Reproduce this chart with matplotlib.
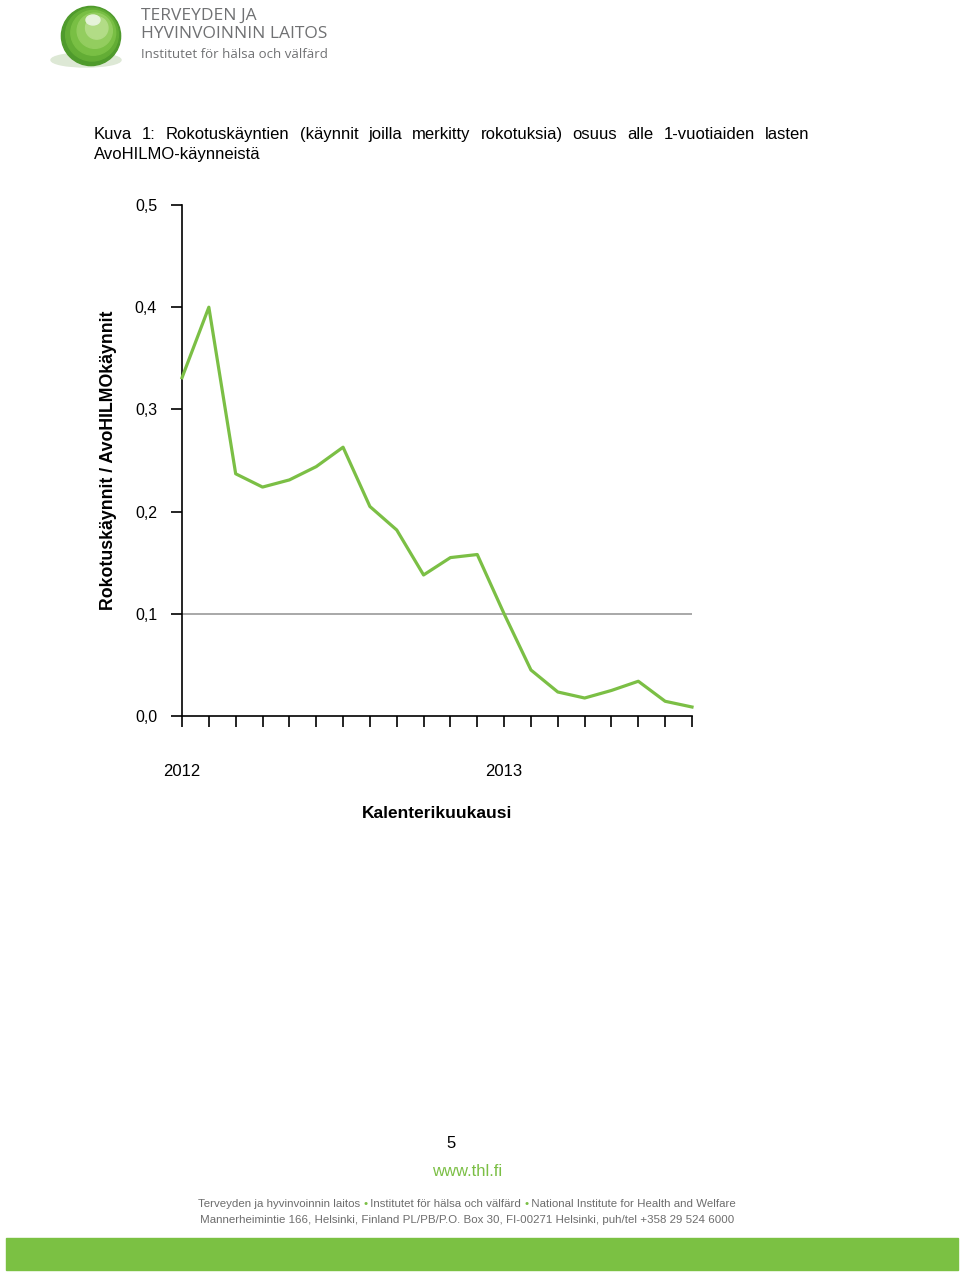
import numpy as np
import matplotlib.pyplot as plt
from matplotlib.patches import Circle, Ellipse, Rectangle

plt.rcParams['font.family'] = ['Liberation Sans', 'DejaVu Sans']

# monthly share of vaccination visits, Jan 2012 - Aug 2013
months = list(range(20))
share = [0.331, 0.400, 0.237, 0.224, 0.231, 0.244, 0.263, 0.205, 0.182, 0.138,
         0.155, 0.158, 0.100, 0.045, 0.0235, 0.0176, 0.025, 0.034, 0.0144, 0.0088]
year_pos = [0, 12]
year_labels = ['2012', '2013']
yticks = [0.0, 0.1, 0.2, 0.3, 0.4, 0.5]
ytick_labels = ['0,0', '0,1', '0,2', '0,3', '0,4', '0,5']

green = '#7bbf45'
W, H = 960, 1272
fig = plt.figure(figsize=(W / 100, H / 100), dpi=100)
renderer = fig.canvas.get_renderer()


def fx(px):
    return px / W


def fy(py):
    return 1 - py / H


# header logo
lax = fig.add_axes([fx(48), fy(72), fx(90), 70 / H])
lax.set_xlim(0, 90)
lax.set_ylim(0, 70)
lax.set_aspect('equal')
lax.axis('off')
lax.add_patch(Ellipse((38, 12), 70, 14, color='#dde8d5', zorder=1))
for r, c in [(37, '#4f9a2c'), (33, '#63ad35'), (28, '#79bf44'), (22, '#93cd5f'), (14, '#b2dc86')]:
    lax.add_patch(Circle((43 + (37 - r) * 0.25, 36 + (37 - r) * 0.35), r * 0.8, color=c, zorder=2))
lax.add_patch(Ellipse((45, 52), 14, 10, color='#e6f3da', zorder=3))

fig.text(fx(141), fy(16), 'TERVEYDEN JA', fontsize=12.5, color='#707173',
         family=['Open Sans', 'DejaVu Sans'], va='center')
fig.text(fx(141), fy(34), 'HYVINVOINNIN LAITOS', fontsize=12.5, color='#707173',
         family=['Open Sans', 'DejaVu Sans'], va='center')
fig.text(fx(141), fy(54), 'Institutet för hälsa och välfärd', fontsize=9.5, color='#707173',
         family=['Open Sans', 'DejaVu Sans'], va='center')


# caption, first line justified
def justified(line, x0, x1, y, size):
    words = line.split()
    texts = [fig.text(0, fy(y), w, fontsize=size, va='baseline', ha='left') for w in words]
    widths = [t.get_window_extent(renderer).width for t in texts]
    gap = (x1 - x0 - sum(widths)) / (len(words) - 1)
    x = x0
    for t, w in zip(texts, widths):
        t.set_x(fx(x))
        x += w + gap


justified('Kuva 1: Rokotuskäyntien (käynnit joilla merkitty rokotuksia) osuus alle 1-vuotiaiden lasten',
          94, 809, 139, 12)
fig.text(fx(94), fy(159), 'AvoHILMO-käynneistä', fontsize=12, va='baseline', ha='left')

# chart
ax = fig.add_axes([fx(182), fy(716), fx(692) - fx(182), (716 - 205) / H])
ax.plot(months, share, color=green, lw=2.3, clip_on=False, zorder=3)
ax.axhline(0.1, color='#9a9a9a', lw=1.2, zorder=2)
ax.set_xlim(0, 19)
ax.set_ylim(0, 0.5)
for s in ['top', 'right']:
    ax.spines[s].set_visible(False)
for s in ['left', 'bottom']:
    ax.spines[s].set_linewidth(1.2)
ax.set_yticks(yticks)
ax.set_yticklabels(ytick_labels, fontsize=11.5)
ax.set_xticks(months)
ax.set_xticklabels(['' for m in months])
ax.tick_params(axis='y', length=8, width=1.2, pad=10)
ax.tick_params(axis='x', length=8, width=1.2)
for p, lab in zip(year_pos, year_labels):
    ax.annotate(lab, xy=(p, 0), xycoords='data', xytext=(0, -55), textcoords='offset pixels',
                ha='center', va='center', fontsize=12)
ax.annotate('Kalenterikuukausi', xy=(0.5, 0), xycoords='axes fraction', xytext=(0, -97),
            textcoords='offset pixels', ha='center', va='center', fontsize=12.5, fontweight='bold')
ax.annotate('Rokotuskäynnit / AvoHILMOkäynnit', xy=(0, 0.5), xycoords='axes fraction',
            xytext=(-73, 0), textcoords='offset pixels', ha='center', va='center',
            rotation=90, fontsize=12.8, fontweight='bold')

# footer
fig.text(fx(451), fy(1144), '5', fontsize=12, ha='center', va='center')
fig.text(fx(467), fy(1171), 'www.thl.fi', fontsize=12, ha='center', va='center', color=green)


def colored_line(parts, cx, cy, size):
    texts = []
    for s, c in parts:
        texts.append(fig.text(0, fy(cy), s, fontsize=size, color=c, va='baseline', ha='left'))
    widths = [t.get_window_extent(renderer).width for t in texts]
    x = cx - sum(widths) / 2
    for t, w in zip(texts, widths):
        t.set_x(fx(x))
        x += w


gray = '#6d6d6d'
colored_line([('Terveyden ja hyvinvoinnin laitos ', gray), ('•', green),
              (' Institutet för hälsa och välfärd ', gray), ('•', green),
              (' National Institute for Health and Welfare', gray)], 467, 1207, 8.25)
colored_line([('Mannerheimintie 166, Helsinki, Finland PL/PB/P.O. Box 30, FI-00271 Helsinki, puh/tel +358 29 524 6000', gray)],
             467, 1223, 8.25)

fig.add_artist(Rectangle((fx(6), fy(1270)), fx(958) - fx(6), 32 / H, color='#7bc143',
                         transform=fig.transFigure))

fig.savefig('out.png', dpi=100)
